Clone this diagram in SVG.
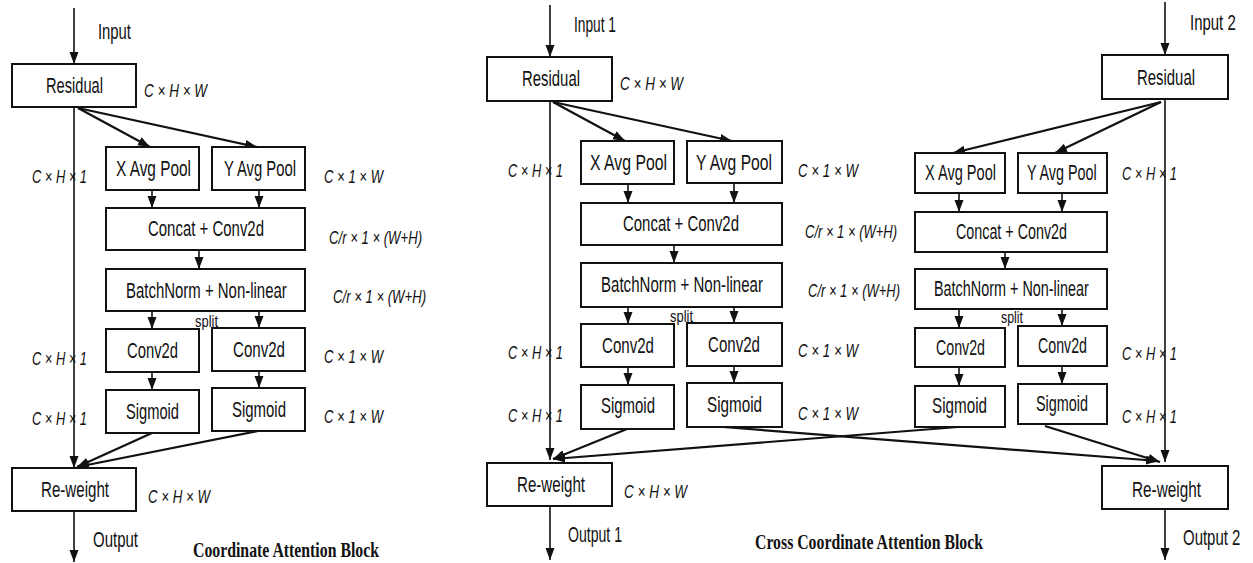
<svg xmlns="http://www.w3.org/2000/svg" width="1253" height="563" viewBox="0 0 1253 563">
<defs>
<style>
.bg{fill:#fff}
.box{fill:#fff;stroke:#111;stroke-width:2}
.t{font-family:"Liberation Sans",Arial,sans-serif;font-size:22px;fill:#111}
.d{font-family:"Liberation Sans",Arial,sans-serif;font-size:19px;font-style:italic;fill:#111}
.s{font-family:"Liberation Sans",Arial,sans-serif;font-size:17px;fill:#111}
.ti{font-family:"Liberation Serif","Times New Roman",serif;font-size:22px;font-weight:bold;fill:#111}
.v{stroke:#111;stroke-width:1.6;fill:none}
.g{stroke:#111;stroke-width:2.2;fill:none}
</style>
<marker id="ah" markerUnits="userSpaceOnUse" markerWidth="13" markerHeight="10" refX="12" refY="4.5" orient="auto">
<path d="M0,0 L12,4.5 L0,9 z" fill="#111"/>
</marker>
</defs>
<rect class="bg" x="0" y="0" width="1253" height="563"/>

<g id="connectors">
<!-- left block -->
<line class="v" x1="74" y1="8" x2="74" y2="64" marker-end="url(#ah)"/>
<line class="v" x1="74" y1="107" x2="74" y2="468" marker-end="url(#ah)"/>
<line class="g" x1="78" y1="108" x2="150" y2="147" marker-end="url(#ah)"/>
<line class="g" x1="78" y1="108" x2="257" y2="147" marker-end="url(#ah)"/>
<line class="v" x1="152" y1="190" x2="152" y2="208" marker-end="url(#ah)"/>
<line class="v" x1="259" y1="190" x2="259" y2="208" marker-end="url(#ah)"/>
<line class="v" x1="199" y1="250" x2="199" y2="269" marker-end="url(#ah)"/>
<line class="v" x1="152" y1="311" x2="152" y2="329" marker-end="url(#ah)"/>
<line class="v" x1="259" y1="311" x2="259" y2="328" marker-end="url(#ah)"/>
<line class="v" x1="152" y1="372" x2="152" y2="390" marker-end="url(#ah)"/>
<line class="v" x1="259" y1="371" x2="259" y2="388" marker-end="url(#ah)"/>
<line class="g" x1="152" y1="433" x2="77" y2="467" marker-end="url(#ah)"/>
<line class="g" x1="258" y1="431" x2="77" y2="467" marker-end="url(#ah)"/>
<line class="v" x1="74" y1="511" x2="74" y2="562" marker-end="url(#ah)"/>
<!-- middle block -->
<line class="v" x1="550" y1="5" x2="550" y2="57" marker-end="url(#ah)"/>
<line class="v" x1="550" y1="101" x2="550" y2="460" marker-end="url(#ah)"/>
<line class="g" x1="553" y1="102" x2="625" y2="141" marker-end="url(#ah)"/>
<line class="g" x1="553" y1="102" x2="732" y2="141" marker-end="url(#ah)"/>
<line class="v" x1="628" y1="184" x2="628" y2="203" marker-end="url(#ah)"/>
<line class="v" x1="734" y1="183" x2="734" y2="203" marker-end="url(#ah)"/>
<line class="v" x1="674" y1="245" x2="674" y2="263" marker-end="url(#ah)"/>
<line class="v" x1="628" y1="307" x2="628" y2="324" marker-end="url(#ah)"/>
<line class="v" x1="734" y1="307" x2="734" y2="323" marker-end="url(#ah)"/>
<line class="v" x1="628" y1="367" x2="628" y2="385" marker-end="url(#ah)"/>
<line class="v" x1="734" y1="366" x2="734" y2="383" marker-end="url(#ah)"/>
<line class="g" x1="627" y1="429" x2="553" y2="459" marker-end="url(#ah)"/>
<line class="g" x1="958" y1="427" x2="553" y2="459" marker-end="url(#ah)"/>
<line class="g" x1="723" y1="427" x2="1158" y2="461" marker-end="url(#ah)"/>
<line class="v" x1="550" y1="506" x2="550" y2="560" marker-end="url(#ah)"/>
<!-- right block -->
<line class="v" x1="1165" y1="2" x2="1165" y2="55" marker-end="url(#ah)"/>
<line class="v" x1="1165" y1="99" x2="1165" y2="462" marker-end="url(#ah)"/>
<line class="g" x1="1161" y1="102" x2="953" y2="153" marker-end="url(#ah)"/>
<line class="g" x1="1161" y1="102" x2="1055" y2="153" marker-end="url(#ah)"/>
<line class="v" x1="959" y1="193" x2="959" y2="212" marker-end="url(#ah)"/>
<line class="v" x1="1062" y1="193" x2="1062" y2="212" marker-end="url(#ah)"/>
<line class="v" x1="1005" y1="252" x2="1005" y2="269" marker-end="url(#ah)"/>
<line class="v" x1="959" y1="309" x2="959" y2="328" marker-end="url(#ah)"/>
<line class="v" x1="1062" y1="309" x2="1062" y2="326" marker-end="url(#ah)"/>
<line class="v" x1="959" y1="367" x2="959" y2="386" marker-end="url(#ah)"/>
<line class="v" x1="1062" y1="366" x2="1062" y2="384" marker-end="url(#ah)"/>
<line class="g" x1="1045" y1="426" x2="1160" y2="462" marker-end="url(#ah)"/>
<line class="v" x1="1165" y1="509" x2="1165" y2="560" marker-end="url(#ah)"/>
</g>

<!-- LEFT BLOCK -->
<g id="l-input"><text class="t" x="98" y="39" textLength="33" lengthAdjust="spacingAndGlyphs">Input</text></g>
<g id="l-residual"><rect class="box" x="12" y="64" width="124" height="43"/><text class="t" x="46" y="93" textLength="57" lengthAdjust="spacingAndGlyphs">Residual</text></g>
<g id="l-xpool"><rect class="box" x="106" y="147" width="93" height="43"/><text class="t" x="116" y="176" textLength="75" lengthAdjust="spacingAndGlyphs">X Avg Pool</text></g>
<g id="l-ypool"><rect class="box" x="212" y="147" width="93" height="43"/><text class="t" x="224" y="176" textLength="72" lengthAdjust="spacingAndGlyphs">Y Avg Pool</text></g>
<g id="l-concat"><rect class="box" x="106" y="208" width="199" height="42"/><text class="t" x="148" y="236" textLength="116" lengthAdjust="spacingAndGlyphs">Concat + Conv2d</text></g>
<g id="l-bn"><rect class="box" x="106" y="269" width="199" height="42"/><text class="t" transform="translate(126,298) scale(0.68,1)" x="0" y="0">BatchNorm + Non-linear</text></g>
<g id="l-conv1"><rect class="box" x="106" y="329" width="93" height="43"/><text class="t" x="127" y="358" textLength="51" lengthAdjust="spacingAndGlyphs">Conv2d</text></g>
<g id="l-conv2"><rect class="box" x="212" y="328" width="93" height="43"/><text class="t" x="233" y="357" textLength="52" lengthAdjust="spacingAndGlyphs">Conv2d</text></g>
<g id="l-sig1"><rect class="box" x="106" y="390" width="93" height="43"/><text class="t" x="126" y="419" textLength="53" lengthAdjust="spacingAndGlyphs">Sigmoid</text></g>
<g id="l-sig2"><rect class="box" x="212" y="388" width="93" height="43"/><text class="t" x="232" y="417" textLength="54" lengthAdjust="spacingAndGlyphs">Sigmoid</text></g>
<g id="l-reweight"><rect class="box" x="12" y="468" width="124" height="43"/><text class="t" x="41" y="497" textLength="68" lengthAdjust="spacingAndGlyphs">Re-weight</text></g>
<g id="l-output"><text class="t" x="93" y="547" textLength="45" lengthAdjust="spacingAndGlyphs">Output</text></g>
<g id="l-labels">
<text class="d" x="144" y="97" textLength="63" lengthAdjust="spacingAndGlyphs">C × H × W</text>
<text class="d" x="32" y="183" textLength="55" lengthAdjust="spacingAndGlyphs">C × H × 1</text>
<text class="d" x="324" y="183" textLength="59" lengthAdjust="spacingAndGlyphs">C × 1 × W</text>
<text class="d" x="329" y="244" textLength="93" lengthAdjust="spacingAndGlyphs">C/r × 1 × (W+H)</text>
<text class="d" x="333" y="303" textLength="93" lengthAdjust="spacingAndGlyphs">C/r × 1 × (W+H)</text>
<text class="s" x="195" y="327" textLength="23" lengthAdjust="spacingAndGlyphs">split</text>
<text class="d" x="32" y="365" textLength="55" lengthAdjust="spacingAndGlyphs">C × H × 1</text>
<text class="d" x="324" y="363" textLength="59" lengthAdjust="spacingAndGlyphs">C × 1 × W</text>
<text class="d" x="32" y="425" textLength="55" lengthAdjust="spacingAndGlyphs">C × H × 1</text>
<text class="d" x="324" y="423" textLength="59" lengthAdjust="spacingAndGlyphs">C × 1 × W</text>
<text class="d" x="148" y="503" textLength="62" lengthAdjust="spacingAndGlyphs">C × H × W</text>
</g>
<g id="l-title"><text class="ti" x="193" y="557" textLength="186" lengthAdjust="spacingAndGlyphs">Coordinate Attention Block</text></g>

<!-- MIDDLE BLOCK -->
<g id="m-input"><text class="t" x="574" y="32" textLength="42" lengthAdjust="spacingAndGlyphs">Input 1</text></g>
<g id="m-residual"><rect class="box" x="487" y="57" width="125" height="44"/><text class="t" x="522" y="86" textLength="58" lengthAdjust="spacingAndGlyphs">Residual</text></g>
<g id="m-xpool"><rect class="box" x="581" y="141" width="93" height="43"/><text class="t" x="590" y="170" textLength="77" lengthAdjust="spacingAndGlyphs">X Avg Pool</text></g>
<g id="m-ypool"><rect class="box" x="687" y="141" width="95" height="42"/><text class="t" x="696" y="170" textLength="76" lengthAdjust="spacingAndGlyphs">Y Avg Pool</text></g>
<g id="m-concat"><rect class="box" x="581" y="203" width="201" height="42"/><text class="t" x="623" y="231" textLength="116" lengthAdjust="spacingAndGlyphs">Concat + Conv2d</text></g>
<g id="m-bn"><rect class="box" x="581" y="263" width="201" height="44"/><text class="t" transform="translate(601,292) scale(0.685,1)" x="0" y="0">BatchNorm + Non-linear</text></g>
<g id="m-conv1"><rect class="box" x="581" y="324" width="93" height="43"/><text class="t" x="602" y="353" textLength="52" lengthAdjust="spacingAndGlyphs">Conv2d</text></g>
<g id="m-conv2"><rect class="box" x="687" y="323" width="95" height="43"/><text class="t" x="708" y="352" textLength="52" lengthAdjust="spacingAndGlyphs">Conv2d</text></g>
<g id="m-sig1"><rect class="box" x="581" y="385" width="93" height="44"/><text class="t" x="601" y="413" textLength="54" lengthAdjust="spacingAndGlyphs">Sigmoid</text></g>
<g id="m-sig2"><rect class="box" x="687" y="383" width="95" height="44"/><text class="t" x="707" y="412" textLength="55" lengthAdjust="spacingAndGlyphs">Sigmoid</text></g>
<g id="m-reweight"><rect class="box" x="487" y="463" width="125" height="43"/><text class="t" x="517" y="492" textLength="68" lengthAdjust="spacingAndGlyphs">Re-weight</text></g>
<g id="m-output"><text class="t" x="568" y="542" textLength="54" lengthAdjust="spacingAndGlyphs">Output 1</text></g>
<g id="m-labels">
<text class="d" x="620" y="90" textLength="63" lengthAdjust="spacingAndGlyphs">C × H × W</text>
<text class="d" x="508" y="177" textLength="55" lengthAdjust="spacingAndGlyphs">C × H × 1</text>
<text class="d" x="798" y="177" textLength="60" lengthAdjust="spacingAndGlyphs">C × 1 × W</text>
<text class="d" x="805" y="238" textLength="92" lengthAdjust="spacingAndGlyphs">C/r × 1 × (W+H)</text>
<text class="d" x="808" y="297" textLength="92" lengthAdjust="spacingAndGlyphs">C/r × 1 × (W+H)</text>
<text class="s" x="670" y="322" textLength="23" lengthAdjust="spacingAndGlyphs">split</text>
<text class="d" x="508" y="359" textLength="55" lengthAdjust="spacingAndGlyphs">C × H × 1</text>
<text class="d" x="798" y="357" textLength="60" lengthAdjust="spacingAndGlyphs">C × 1 × W</text>
<text class="d" x="508" y="422" textLength="55" lengthAdjust="spacingAndGlyphs">C × H × 1</text>
<text class="d" x="798" y="420" textLength="60" lengthAdjust="spacingAndGlyphs">C × 1 × W</text>
<text class="d" x="624" y="498" textLength="63" lengthAdjust="spacingAndGlyphs">C × H × W</text>
</g>
<g id="m-title"><text class="ti" x="755" y="549" textLength="228" lengthAdjust="spacingAndGlyphs">Cross Coordinate Attention Block</text></g>

<!-- RIGHT BLOCK -->
<g id="r-input"><text class="t" transform="translate(1190,30) scale(0.68,1)" x="0" y="0">Input 2</text></g>
<g id="r-residual"><rect class="box" x="1102" y="55" width="126" height="44"/><text class="t" x="1137" y="85" textLength="58" lengthAdjust="spacingAndGlyphs">Residual</text></g>
<g id="r-xpool"><rect class="box" x="915" y="153" width="90" height="40"/><text class="t" x="925" y="180" textLength="71" lengthAdjust="spacingAndGlyphs">X Avg Pool</text></g>
<g id="r-ypool"><rect class="box" x="1018" y="153" width="89" height="40"/><text class="t" transform="translate(1027,180) scale(0.653,1)" x="0" y="0">Y Avg Pool</text></g>
<g id="r-concat"><rect class="box" x="915" y="212" width="192" height="40"/><text class="t" x="956" y="239" textLength="111" lengthAdjust="spacingAndGlyphs">Concat + Conv2d</text></g>
<g id="r-bn"><rect class="box" x="915" y="269" width="192" height="40"/><text class="t" transform="translate(934,296) scale(0.655,1)" x="0" y="0">BatchNorm + Non-linear</text></g>
<g id="r-conv1"><rect class="box" x="915" y="328" width="90" height="39"/><text class="t" x="936" y="355" textLength="49" lengthAdjust="spacingAndGlyphs">Conv2d</text></g>
<g id="r-conv2"><rect class="box" x="1018" y="326" width="89" height="40"/><text class="t" x="1038" y="353" textLength="49" lengthAdjust="spacingAndGlyphs">Conv2d</text></g>
<g id="r-sig1"><rect class="box" x="915" y="386" width="90" height="41"/><text class="t" x="932" y="413" textLength="55" lengthAdjust="spacingAndGlyphs">Sigmoid</text></g>
<g id="r-sig2"><rect class="box" x="1018" y="384" width="89" height="40"/><text class="t" x="1036" y="411" textLength="52" lengthAdjust="spacingAndGlyphs">Sigmoid</text></g>
<g id="r-reweight"><rect class="box" x="1102" y="466" width="126" height="43"/><text class="t" x="1132" y="497" textLength="69" lengthAdjust="spacingAndGlyphs">Re-weight</text></g>
<g id="r-output"><text class="t" transform="translate(1183,545) scale(0.68,1)" x="0" y="0">Output 2</text></g>
<g id="r-labels">
<text class="d" x="1122" y="180" textLength="55" lengthAdjust="spacingAndGlyphs">C × H × 1</text>
<text class="s" x="1001" y="323" textLength="22" lengthAdjust="spacingAndGlyphs">split</text>
<text class="d" x="1122" y="360" textLength="55" lengthAdjust="spacingAndGlyphs">C × H × 1</text>
<text class="d" x="1122" y="423" textLength="55" lengthAdjust="spacingAndGlyphs">C × H × 1</text>
</g>
</svg>
